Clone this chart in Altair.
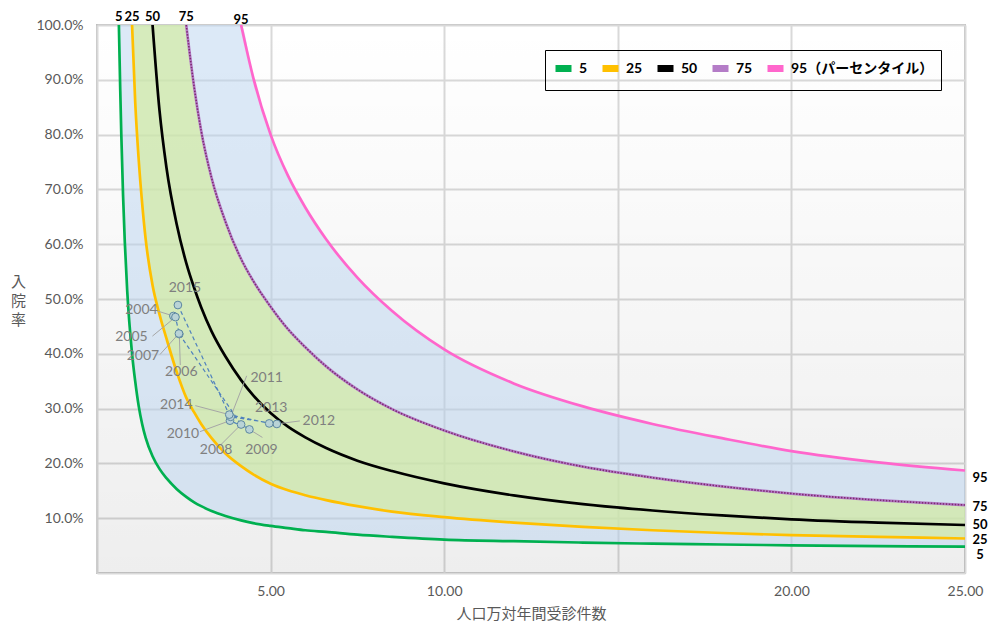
import altair as alt
import pandas as pd

# ---------------- data ----------------
X_GRID = [0.63, 0.67, 0.70, 0.75, 0.80, 0.87, 1.01, 1.1, 1.2, 1.3, 1.4, 1.6, 1.8, 2.0,
          2.3, 2.57, 2.8, 3.0, 3.3, 3.7, 4.15, 4.5, 5.0, 5.5, 6.0, 6.6, 7.5, 8.5, 10,
          12, 14, 16, 18, 20, 22.5, 25]

P5 = [1.0, 0.88, 0.80, 0.69, 0.605, 0.515, 0.40, 0.35, 0.305, 0.272, 0.247, 0.213, 0.19,
      0.173, 0.153, 0.139, 0.129, 0.122, 0.113, 0.104, 0.096, 0.091, 0.086, 0.082, 0.078,
      0.075, 0.070, 0.066, 0.061, 0.058, 0.0555, 0.0535, 0.052, 0.0505, 0.049, 0.048]
P25 = [None] * 6 + [1.0, 0.86, 0.755, 0.675, 0.61, 0.525, 0.472, 0.428, 0.366, 0.32,
                    0.293, 0.272, 0.246, 0.218, 0.195, 0.18, 0.163, 0.151, 0.142, 0.133,
                    0.122, 0.112, 0.102, 0.092, 0.084, 0.078, 0.073, 0.069, 0.066, 0.063]
P50 = [None] * 11 + [1.0, 0.844, 0.74, 0.635, 0.566, 0.52, 0.485, 0.441, 0.395, 0.352,
                     0.324, 0.292, 0.267, 0.2475, 0.228, 0.205, 0.186, 0.1636, 0.1417,
                     0.1257, 0.114, 0.105, 0.098, 0.092, 0.0876]
P75 = [None] * 15 + [1.0, 0.886, 0.807, 0.721, 0.641, 0.573, 0.533, 0.486, 0.445, 0.412,
                     0.377, 0.335, 0.299, 0.26, 0.222, 0.194, 0.174, 0.158, 0.145, 0.133,
                     0.124]
P95 = [None] * 20 + [1.0, 0.904, 0.80, 0.725, 0.667, 0.609, 0.539, 0.478, 0.408, 0.346,
                     0.304, 0.272, 0.246, 0.2225, 0.202, 0.187]

SERIES = ["5", "25", "50", "75", "95"]
CURVES = [P5, P25, P50, P75, P95]

YEARS = [2004, 2005, 2006, 2007, 2008, 2009, 2010, 2011, 2012, 2013, 2014, 2015]
YEAR_X = [2.20, 2.26, 2.37, 2.36, 4.15, 4.39, 3.83, 3.85, 5.18, 4.96, 3.81, 2.33]
YEAR_Y = [0.469, 0.467, 0.436, 0.437, 0.271, 0.262, 0.278, 0.285, 0.272, 0.273, 0.289, 0.489]

# ---------------- styles / layout ----------------
W, H = 868, 548
XMAX = 25.0
PXX = W / XMAX
PXY = H / 1.0
COLORS = ["#00b050", "#ffc000", "#000000", "#b47cc7", "#ff66cc"]
TOP_DY = {"5": -8, "25": -8, "50": -8, "75": -8, "95": -5}
RIGHT_DY = {"5": 8, "25": 2, "50": 0, "75": 2, "95": 7}
# label offset (px) and leader end offset (px) relative to each point
LABEL_OFF = {2004: (-32, -6, -16, -5), 2005: (-44, 20, -23, 19), 2006: (2, 38, 1, 31),
             2007: (-36, 22, -19, 21), 2008: (-25, 26, -21, 21), 2009: (12, 21, 13, 8),
             2010: (-47, 13, -30, 11), 2011: (36, -39, 16, -41), 2012: (42, -3, 23, -3),
             2013: (2, -15, None, None), 2014: (-53, -10, -34, -9), 2015: (7, -17, None, None)}
FONT = "Lato, Noto Sans CJK JP"
JFONT = "Noto Sans CJK JP"
GRAY = "#595959"

# ---------------- tables ----------------
rows = []
for s, vals in zip(SERIES, CURVES):
    for x, v in zip(X_GRID, vals):
        if v is not None:
            rows.append({"x": x, "y": v, "series": s})
lines_df = pd.DataFrame(rows)

band_outer = pd.DataFrame([
    {"x": x, "y": lo, "hi": (hi if hi is not None else 1.0)}
    for x, lo, hi in zip(X_GRID, P5, P95) if lo is not None])
band_inner = pd.DataFrame([
    {"x": x, "y": lo, "hi": (hi if hi is not None else 1.0)}
    for x, lo, hi in zip(X_GRID, P25, P75) if lo is not None])

edge_rows = []
for s, vals in zip(SERIES, CURVES):
    pts = [(x, v) for x, v in zip(X_GRID, vals) if v is not None]
    fx, fv = pts[0]
    lx, lv = pts[-1]
    edge_rows.append({"x": fx, "y": fv - TOP_DY[s] / PXY, "t": s, "pos": "top"})
    edge_rows.append({"x": lx, "y": lv - RIGHT_DY[s] / PXY, "t": s, "pos": "right"})
edge_df = pd.DataFrame(edge_rows)

yr_rows = []
lead_rows = []
for yr, x, y in zip(YEARS, YEAR_X, YEAR_Y):
    dx, dy, ldx, ldy = LABEL_OFF[yr]
    yr_rows.append({"year": yr, "x": x, "y": y, "lx": x + dx / PXX, "ly": y - dy / PXY,
                    "label": str(yr)})
    if ldx is not None:
        lead_rows.append({"x": x, "y": y, "x2": x + ldx / PXX, "y2": y - ldy / PXY})
yr_df = pd.DataFrame(yr_rows)
lead_df = pd.DataFrame(lead_rows)

# ---------------- encodings ----------------
x_axis = alt.Axis(values=[0, 5, 10, 15, 20, 25], format=".2f",
                  labelExpr="(datum.value == 0 || datum.value == 15) ? '' : datum.label",
                  labelFlush=False,
                  title="人口万対年間受診件数", grid=True, gridColor="#d9d9d9", gridWidth=2,
                  domain=False, ticks=False, labelPadding=11, labelFontSize=14,
                  labelColor=GRAY, labelFont=FONT, titleFont=JFONT, titleFontSize=15,
                  titleColor=GRAY, titleFontWeight="normal", titleY=40,
                  titleBaseline="middle")
y_axis = alt.Axis(values=[0, 0.1, 0.2, 0.3, 0.4, 0.5, 0.6, 0.7, 0.8, 0.9, 1.0],
                  format=".1%", labelExpr="datum.value == 0 ? '' : datum.label",
                  title=["入", "院", "率"], titleAngle=0, titleX=-79, titleY=249,
                  titleBaseline="top", titleAlign="center", titleLineHeight=19,
                  titleFont=JFONT, titleFontSize=15, titleColor=GRAY,
                  titleFontWeight="normal", grid=True, gridColor="#d9d9d9", gridWidth=2,
                  domain=False, ticks=False, labelPadding=14, labelFontSize=14,
                  labelColor=GRAY, labelFont=FONT)
xs = alt.Scale(domain=[0, XMAX], nice=False, zero=False)
ys = alt.Scale(domain=[0, 1], nice=False)


def X(field="x"):
    return alt.X(f"{field}:Q", scale=xs, axis=x_axis)


def Y(field="y"):
    return alt.Y(f"{field}:Q", scale=ys, axis=y_axis)


grad = alt.LinearGradient(gradient="linear",
                          stops=[alt.GradientStop(color="rgba(0,0,0,0)", offset=0),
                                 alt.GradientStop(color="rgba(0,0,0,0.065)", offset=1)],
                          x1=0, x2=0, y1=0, y2=1)
bg = alt.Chart(pd.DataFrame({"k": [0]})).mark_rect(color=grad).encode(
    x=alt.value(0), x2=alt.value(W), y=alt.value(0), y2=alt.value(H))

outer = alt.Chart(band_outer).mark_area(interpolate="monotone", color="#bcd5ef",
                                        opacity=0.52).encode(x=X(), y=Y(), y2="hi:Q")
inner = alt.Chart(band_inner).mark_area(interpolate="monotone", color="#d2ed94",
                                        opacity=0.6).encode(x=X(), y=Y(), y2="hi:Q")

lines = alt.Chart(lines_df).mark_line(interpolate="monotone", strokeWidth=2.7).encode(
    x=X(), y=Y(),
    color=alt.Color("series:N", scale=alt.Scale(domain=SERIES, range=COLORS),
                    legend=alt.Legend(
                        title=None, orient="none", legendX=448, legendY=25,
                        direction="horizontal", symbolType="stroke", gridAlign="none",
                        symbolStrokeWidth=7, symbolSize=256, labelFontSize=14,
                        labelFontWeight="bold", labelColor="black", labelFont=FONT,
                        strokeColor="black", padding=7, columnPadding=0,
                        labelOffset=4, labelLimit=400,
                        labelExpr="datum.label == '95' ? '95（パーセンタイル）' : datum.label")),
    detail="series:N")

purple_tex = alt.Chart(lines_df).transform_filter(alt.datum.series == "75").mark_line(
    interpolate="monotone", color="#7e2a70", strokeWidth=1.6,
    strokeDash=[1.5, 1.5]).encode(x=X(), y=Y())

top_lbl = alt.Chart(edge_df).transform_filter(alt.datum.pos == "top").mark_text(
    font=FONT, fontSize=13, fontWeight="bold", color="black", baseline="middle").encode(
    x=X(), y=Y(), text="t:N")
right_lbl = alt.Chart(edge_df).transform_filter(alt.datum.pos == "right").mark_text(
    font=FONT, fontSize=13, fontWeight="bold", color="black", baseline="middle",
    dx=15).encode(x=X(), y=Y(), text="t:N")

path = alt.Chart(yr_df).mark_line(color="#4f81bd", strokeWidth=1.2,
                                  strokeDash=[4, 3]).encode(
    x=X(), y=Y(), order="year:Q")
leaders = alt.Chart(lead_df).mark_rule(color="#a6a6a6", strokeWidth=1).encode(
    x=X(), y=Y(), x2="x2:Q", y2="y2:Q")
points = alt.Chart(yr_df).mark_point(shape="circle", size=60, filled=True,
                                     fill="#b9d3d6", stroke="#5c87a0", strokeWidth=1,
                                     opacity=1).encode(x=X(), y=Y())
yr_lbl = alt.Chart(yr_df).mark_text(font=FONT, fontSize=14, color="#7f7f7f",
                                    baseline="middle").encode(
    x=X("lx"), y=Y("ly"), text="label:N")

chart = alt.layer(bg, outer, inner, lines, purple_tex, top_lbl, right_lbl, path, leaders,
                  points, yr_lbl).properties(
    width=W, height=H,
    autosize=alt.AutoSizeParams(type="none"),
    padding={"left": 89, "top": 17, "right": 23, "bottom": 49},
).configure_view(stroke="#bfbfbf", strokeWidth=2)

chart.save("out.html", embed_options={"renderer": "svg", "actions": False})
